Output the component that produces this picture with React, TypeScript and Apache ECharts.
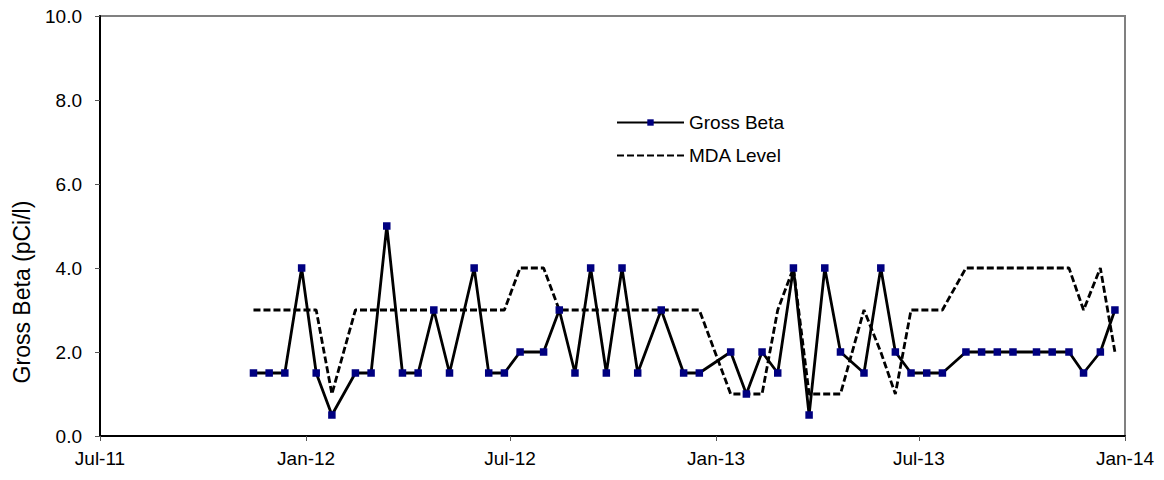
import React, { useEffect, useRef } from "react";
import * as echarts from "echarts";

const sampleDates = [
  "2011-11-15", "2011-11-29", "2011-12-13", "2011-12-28",
  "2012-01-10", "2012-01-24", "2012-02-14", "2012-02-28",
  "2012-03-13", "2012-03-27", "2012-04-10", "2012-04-24",
  "2012-05-08", "2012-05-30", "2012-06-12", "2012-06-26",
  "2012-07-10", "2012-07-31", "2012-08-14", "2012-08-28",
  "2012-09-11", "2012-09-25", "2012-10-09", "2012-10-23",
  "2012-11-13", "2012-12-03", "2012-12-17", "2013-01-14",
  "2013-01-28", "2013-02-11", "2013-02-25", "2013-03-11",
  "2013-03-25", "2013-04-08", "2013-04-22", "2013-05-13",
  "2013-05-28", "2013-06-10", "2013-06-24", "2013-07-08",
  "2013-07-22", "2013-08-12", "2013-08-26", "2013-09-09",
  "2013-09-23", "2013-10-14", "2013-10-28", "2013-11-12",
  "2013-11-25", "2013-12-10", "2013-12-23",
];

const grossBeta = [
  1.5, 1.5, 1.5, 4.0,
  1.5, 0.5, 1.5, 1.5,
  5.0, 1.5, 1.5, 3.0,
  1.5, 4.0, 1.5, 1.5,
  2.0, 2.0, 3.0, 1.5,
  4.0, 1.5, 4.0, 1.5,
  3.0, 1.5, 1.5, 2.0,
  1.0, 2.0, 1.5, 4.0,
  0.5, 4.0, 2.0, 1.5,
  4.0, 2.0, 1.5, 1.5,
  1.5, 2.0, 2.0, 2.0,
  2.0, 2.0, 2.0, 2.0,
  1.5, 2.0, 3.0,
];

const mdaLevel = [
  3, 3, 3, 3,
  3, 1, 3, 3,
  3, 3, 3, 3,
  3, 3, 3, 3,
  4, 4, 3, 3,
  3, 3, 3, 3,
  3, 3, 3, 1,
  1, 1, 3, 4,
  1, 1, 1, 3,
  2, 1, 3, 3,
  3, 4, 4, 4,
  4, 4, 4, 4,
  3, 4, 2,
];

const xTickDates = ["2011-07-01", "2012-01-01", "2012-07-01", "2013-01-01", "2013-07-01", "2014-01-01"];
const monthNames = ["Jan", "Feb", "Mar", "Apr", "May", "Jun", "Jul", "Aug", "Sep", "Oct", "Nov", "Dec"];

const seriesNames = ["Gross Beta", "MDA Level"];
const yAxisTitle = "Gross Beta (pCi/l)";

function ts(s: string): number {
  const [y, m, d] = s.split("-").map(Number);
  return Date.UTC(y, m - 1, d);
}
function fmtDate(v: number): string {
  const d = new Date(v);
  return monthNames[d.getUTCMonth()] + "-" + String(d.getUTCFullYear()).slice(2);
}

const FONT = "Liberation Sans, Arial, sans-serif";

export default function App() {
  const ref = useRef<HTMLDivElement>(null);
  useEffect(() => {
    document.body.style.margin = "0";
    if (!ref.current) return;
    const chart = echarts.init(ref.current, undefined, { renderer: "svg" });
    const tickVals = xTickDates.map(ts);
    chart.setOption({
      animation: false,
      backgroundColor: "#ffffff",
      grid: {
        left: 100,
        right: 39,
        top: 16,
        bottom: 44,
        show: true,
        borderColor: "#808080",
        borderWidth: 2,
        backgroundColor: "transparent",
      },
      legend: {
        orient: "vertical",
        left: 611,
        top: 108,
        itemWidth: 67,
        itemHeight: 8,
        itemGap: 14,
        itemTextGap: 8,
        textStyle: { fontFamily: FONT, fontSize: 19, color: "#000" },
        data: [
          { name: seriesNames[0] },
          { name: seriesNames[1], itemStyle: { opacity: 0 } },
        ],
      },
      xAxis: {
        type: "value",
        min: tickVals[0],
        max: tickVals[tickVals.length - 1],
        axisLine: { show: true, lineStyle: { color: "#000", width: 2 } },
        axisTick: {
          show: true,
          length: 5,
          lineStyle: { color: "#555" },
          customValues: tickVals,
        },
        axisLabel: {
          customValues: tickVals,
          formatter: (v: number) => fmtDate(v),
          fontFamily: FONT,
          fontSize: 19,
          color: "#000",
          margin: 13,
          showMinLabel: true,
          showMaxLabel: true,
        },
        splitLine: { show: false },
      },
      yAxis: {
        type: "value",
        min: 0,
        max: 10,
        interval: 2,
        axisLine: { show: true, lineStyle: { color: "#000", width: 2 } },
        axisTick: { show: true, length: 5, lineStyle: { color: "#555" } },
        axisLabel: {
          formatter: (v: number) => v.toFixed(1),
          fontFamily: FONT,
          fontSize: 19,
          color: "#000",
          margin: 18,
        },
        splitLine: { show: false },
      },
      graphic: [
        {
          type: "text",
          x: 22,
          y: 292,
          rotation: Math.PI / 2,
          style: {
            text: yAxisTitle,
            fontFamily: FONT,
            fontSize: 23,
            fill: "#000",
            align: "center",
            verticalAlign: "middle",
          },
        },
      ],
      series: [
        {
          name: seriesNames[0],
          type: "line",
          data: sampleDates.map((d, i) => [ts(d), grossBeta[i]]),
          symbol: "rect",
          symbolSize: 7.5,
          showSymbol: true,
          lineStyle: { color: "#000", width: 2.8 },
          itemStyle: { color: "#000080", borderWidth: 0 },
          z: 3,
        },
        {
          name: seriesNames[1],
          type: "line",
          data: sampleDates.map((d, i) => [ts(d), mdaLevel[i]]),
          symbol: "none",
          showSymbol: false,
          lineStyle: { color: "#000", width: 2.8, type: [7, 3] },
          itemStyle: { color: "#000" },
          z: 2,
        },
      ],
    });
    return () => chart.dispose();
  }, []);
  return <div ref={ref} style={{ width: 1164, height: 480 }} />;
}
